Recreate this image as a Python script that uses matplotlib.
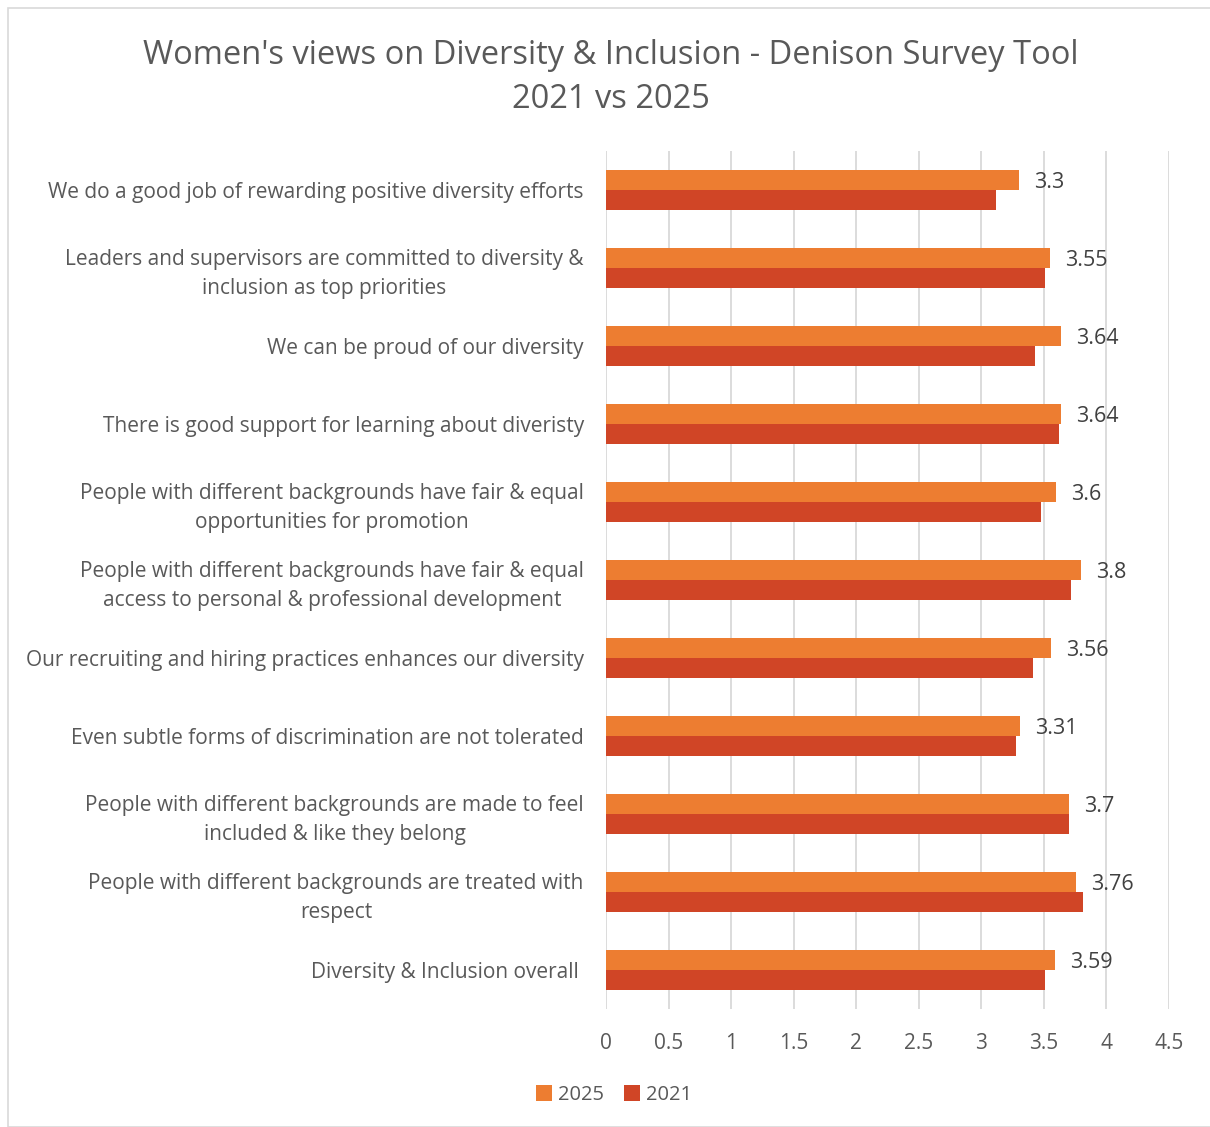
import matplotlib.pyplot as plt
import numpy as np

# data, top to bottom as in the chart
categories = [
    "We do a good job of rewarding positive diversity efforts",
    "Leaders and supervisors are committed to diversity &\ninclusion as top priorities",
    "We can be proud of our diversity",
    "There is good support for learning about diveristy",
    "People with different backgrounds have fair & equal\nopportunities for promotion",
    "People with different backgrounds have fair & equal\naccess to personal & professional development",
    "Our recruiting and hiring practices enhances our diversity",
    "Even subtle forms of discrimination are not tolerated",
    "People with different backgrounds are made to feel\nincluded & like they belong",
    "People with different backgrounds are treated with\nrespect",
    "Diversity & Inclusion overall ",
]
y2025 = [3.3, 3.55, 3.64, 3.64, 3.6, 3.8, 3.56, 3.31, 3.7, 3.76, 3.59]
y2021 = [3.12, 3.51, 3.43, 3.62, 3.48, 3.72, 3.41, 3.28, 3.70, 3.81, 3.51]
ticks = [0, 0.5, 1, 1.5, 2, 2.5, 3, 3.5, 4, 4.5]
tick_labels = ["0", "0.5", "1", "1.5", "2", "2.5", "3", "3.5", "4", "4.5"]

plt.rcParams['font.family'] = ['Open Sans', 'DejaVu Sans']
txt = '#595959'

fig = plt.figure(figsize=(12.1, 11.27), dpi=100)
# plot area in pixels: x 606..1169, y 151..1009
ax = fig.add_axes([606 / 1210, 1 - 1009 / 1127, (1169 - 606) / 1210, (1009 - 151) / 1127])

pos = np.arange(len(categories))
h = 0.256
ax.barh(pos - h / 2, y2025, height=h, color='#ED7D31', label='2025', zorder=3)
ax.barh(pos + h / 2, y2021, height=h, color='#D04526', label='2021', zorder=3)

# value labels for 2025 only
for p, v in zip(pos, y2025):
    ax.text(v + 0.12, p - h / 2 + 0.03, f"{v:g}", va='center', ha='left',
            fontsize=15.5, color='#404040')

ax.set_ylim(len(categories) - 0.5, -0.5)
ax.set_xlim(0, 4.5)
ax.set_yticks(pos)
ax.set_yticklabels(categories, fontsize=15.0, color=txt, multialignment='center', linespacing=1.45)
ax.set_xticks(ticks)
ax.set_xticklabels(tick_labels, fontsize=15.0, color=txt)
ax.tick_params(axis='y', length=0, pad=16)
ax.tick_params(axis='x', length=0, pad=17)
ax.grid(axis='x', color='#d9d9d9', linewidth=1.3, zorder=0)
for s in ax.spines.values():
    s.set_visible(False)

fig.text(611 / 1210, 1 - 55 / 1127, "Women's views on Diversity & Inclusion - Denison Survey Tool",
         ha='center', va='center', fontsize=23.5, color=txt)
fig.text(611 / 1210, 1 - 100 / 1127, "2021 vs 2025", ha='center', va='center', fontsize=23.5, color=txt)

ax.legend(loc='center', bbox_to_anchor=(614 / 1210, 1 - 1095 / 1127), bbox_transform=fig.transFigure,
          ncol=2, frameon=False, fontsize=14.5, labelcolor=txt, handlelength=0.8, handleheight=0.8,
          handletextpad=0.3, columnspacing=1.0)

# chart border
fig.patches.append(plt.Rectangle((8 / 1210, 0), 1, 1 - 8 / 1127, transform=fig.transFigure,
                                 fill=False, edgecolor='#d9d9d9', linewidth=1.2))

plt.savefig('out.png', dpi=100)
